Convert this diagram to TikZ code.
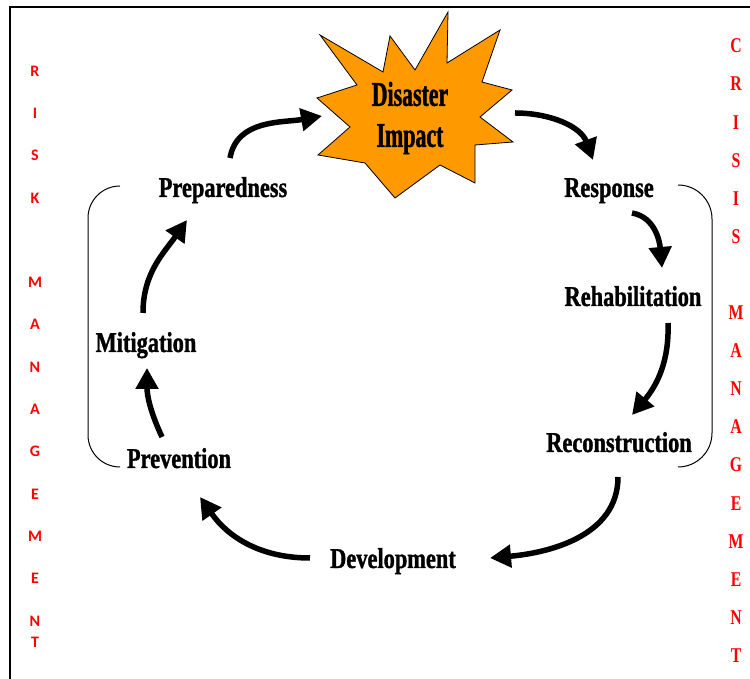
\documentclass[tikz,border=0pt]{standalone}
\usepackage{fontspec}
\usepackage{tikz}
\usetikzlibrary{arrows.meta}
\setmainfont{Liberation Serif}
\newfontfamily\cyclefont{Liberation Serif}[FakeStretch=0.78, BoldFeatures={FakeBold=1.2}]
\newfontfamily\starfont{Liberation Serif}[FakeStretch=0.63, BoldFeatures={FakeBold=1.2}]
\newfontfamily\crisisfont{Liberation Serif}[FakeStretch=0.75]
\newfontfamily\riskfont{Carlito}
\definecolor{burst}{RGB}{255,153,0}
\definecolor{redtext}{RGB}{255,0,0}

\begin{document}
\begin{tikzpicture}[x=1pt, y=1pt,
  stage/.style = {font=\cyclefont\bfseries\fontsize{28.7}{34}\selectfont, inner sep=0, anchor=base},
  flow/.style = {line width=5.5pt, -{Triangle[length=21pt, width=22pt]}},
  brace/.style = {line width=1pt, rounded corners=32pt},
  risk/.style = {font=\riskfont\bfseries\fontsize{16}{18}\selectfont, text=redtext, inner sep=0},
  crisis/.style = {font=\crisisfont\bfseries\fontsize{21}{24}\selectfont, text=redtext, inner sep=0}]
 \useasboundingbox (0,0) rectangle (750,679);
 \draw [line width=2pt] (10,0) -- (10,672) -- (750,672);
  % the burst
  \draw [fill=burst, line width=.8pt] (320,644) -- (383,607) -- (390,643) -- (415,609) -- (448,667) -- (447,616) -- (500,649) -- (482,597) -- (512,589) -- (480,562) -- (513,537) -- (475,534) -- (475,496) -- (440,514) -- (395,481) -- (365,516) -- (318,524) -- (350,552) -- (317,581) -- (357,594) -- cycle;
  \node [align=center, inner sep=0, font=\starfont\bfseries\fontsize{34.7}{41}\selectfont] (impact) at (410,561) {Disaster\\Impact};
  % the stages
  \node [stage] (prep) at (223,482) {Preparedness};
  \node [stage] (resp) at (609,482) {Response};
  \node [stage] (rehab) at (633,373) {Rehabilitation};
  \node [stage] (recon) at (619,227) {Reconstruction};
  \node [stage] (devel) at (393,111) {Development};
  \node [stage] (prev) at (179,211) {Prevention};
  \node [stage] (mitig) at (146,327) {Mitigation};
  % the cycle
  \draw [flow] ([shift={(7,39)}]prep.base) to [out = 80, in = 190] ([shift={(-88,2)}]impact.center);
  \draw [flow] ([shift={(105,5)}]impact.center) to [out = 0, in = 110] ([shift={(-16,37)}]resp.base);
  \draw [flow] ([shift={(23,-16)}]resp.base) to [out = -10, in = 95] ([shift={(29,38)}]rehab.base);
  \draw [flow] ([shift={(35,-17)}]rehab.base) to [out = -88, in = 50] ([shift={(13,37)}]recon.base);
  \draw [flow] ([shift={(-1,-25)}]recon.base) to [out = -90, in = 5] ([shift={(97,10)}]devel.base);
  \draw [flow] ([shift={(-83,10)}]devel.base) to [out = 180, in = -55] ([shift={(21,-29)}]prev.base);
  \draw [flow] ([shift={(-17,31)}]prev.base) to [out = 115, in = -90] ([shift={(1,-16)}]mitig.base);
  \draw [flow] ([shift={(-3,39)}]mitig.base) to [out = 90, in = 235] ([shift={(-36,-23)}]prep.base);
  % the two braces
  \draw [brace] (120,493) -- (88,493) -- (88,212) -- (120,212);
  \draw [brace, rounded corners=34pt] (678,494) -- (712,494) -- (712,212) -- (679,212);
  % side words
  \foreach \l/\i [count=\n] in {R/0, I/1, S/2, K/3, M/5, A/6, N/7, A/8, G/9, E/10, M/11, E/12, N/13, T/13.5}
   \node [risk] (risk\n) at (35,{608-\i*42.3}) {\l};
  \foreach \l/\i [count=\n] in {C/0, R/1, I/2, S/3, I/4, S/5, M/7, A/8, N/9, A/10, G/11, E/12, M/13, E/14, N/15, T/16}
   \node [crisis] (crisis\n) at (736,{633-\i*38.1}) {\l};
 \end{tikzpicture}
\end{document}
